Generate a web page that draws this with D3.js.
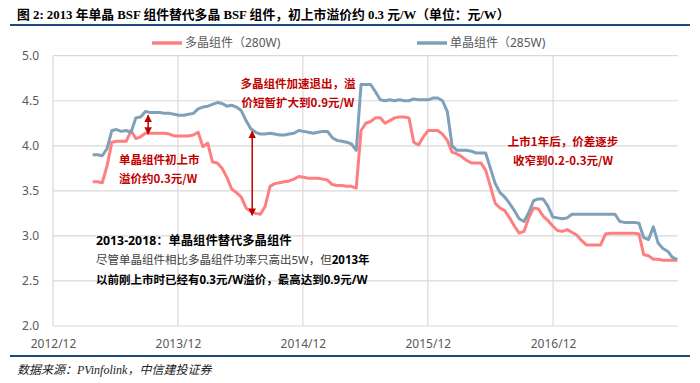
<!DOCTYPE html>
<html>
<head>
<meta charset="utf-8">
<script src="https://cdn.jsdelivr.net/npm/d3@7"></script>
<style>
  body { margin: 0; background: #fff; }
  svg { display: block; }
  text { font-family: "Noto Sans", "Noto Sans CJK SC", sans-serif; }
</style>
</head>
<body>
<div id="chart"></div>
<script>
// biweekly price points (元/W)
const dates = [
  "2013-03-27","2013-04-10","2013-04-24","2013-05-08","2013-05-22","2013-06-05","2013-06-19","2013-07-03","2013-07-17","2013-07-31",
  "2013-08-14","2013-08-28","2013-09-11","2013-09-25","2013-10-09","2013-10-23","2013-11-06","2013-11-20","2013-12-04","2013-12-18",
  "2014-01-01","2014-01-15","2014-01-29","2014-02-12","2014-02-26","2014-03-12","2014-03-26","2014-04-09","2014-04-23","2014-05-07",
  "2014-05-21","2014-06-04","2014-06-18","2014-07-02","2014-07-16","2014-07-30","2014-08-13","2014-08-27","2014-09-10","2014-09-24",
  "2014-10-08","2014-10-22","2014-11-05","2014-11-19","2014-12-03","2014-12-17","2014-12-31","2015-01-14","2015-01-28","2015-02-11",
  "2015-02-25","2015-03-11","2015-03-25","2015-04-08","2015-04-22","2015-05-06","2015-05-20","2015-06-03","2015-06-17","2015-07-01",
  "2015-07-15","2015-07-29","2015-08-12","2015-08-26","2015-09-09","2015-09-23","2015-10-07","2015-10-21","2015-11-04","2015-11-18",
  "2015-12-02","2015-12-16","2015-12-30","2016-01-13","2016-01-27","2016-02-10","2016-02-24","2016-03-09","2016-03-23","2016-04-06",
  "2016-04-20","2016-05-04","2016-05-18","2016-06-01","2016-06-15","2016-06-29","2016-07-13","2016-07-27","2016-08-10","2016-08-24",
  "2016-09-07","2016-09-21","2016-10-05","2016-10-19","2016-11-02","2016-11-16","2016-11-30","2016-12-14","2016-12-28","2017-01-11",
  "2017-01-25","2017-02-08","2017-02-22","2017-03-08","2017-03-22","2017-04-05","2017-04-19","2017-05-03","2017-05-17","2017-05-31",
  "2017-06-14","2017-06-28","2017-07-12","2017-07-26","2017-08-09","2017-08-23","2017-09-06","2017-09-20","2017-10-04","2017-10-18",
  "2017-11-01","2017-11-15","2017-11-29"
];

// 多晶组件 (280W)
const polyPrice = [
  3.60,3.60,3.59,3.78,4.04,4.05,4.05,4.05,4.17,4.08,
  4.10,4.14,4.14,4.14,4.14,4.14,4.13,4.11,4.11,4.11,
  4.11,4.12,4.15,3.99,4.03,3.82,3.81,3.75,3.65,3.52,
  3.48,3.43,3.31,3.27,3.25,3.24,3.33,3.55,3.58,3.59,
  3.60,3.61,3.63,3.66,3.65,3.64,3.64,3.64,3.63,3.62,
  3.57,3.56,3.56,3.55,3.55,3.53,4.17,4.25,4.27,4.31,
  4.31,4.25,4.28,4.31,4.32,4.32,4.31,4.04,4.01,4.10,
  4.17,4.17,4.17,4.13,4.06,3.93,3.91,3.88,3.84,3.81,
  3.81,3.81,3.73,3.55,3.36,3.31,3.28,3.20,3.11,3.03,
  3.05,3.20,3.31,3.30,3.22,3.17,3.11,3.06,3.05,3.07,
  3.04,3.01,2.95,2.90,2.90,2.90,2.90,3.02,3.03,3.03,
  3.03,3.03,3.03,3.03,3.02,2.79,2.78,2.74,2.74,2.73,
  2.73,2.73,2.73
];

// 单晶组件 (285W)
const monoPrice = [
  3.90,3.90,3.89,3.97,4.17,4.18,4.16,4.17,4.15,4.31,
  4.32,4.38,4.37,4.37,4.37,4.36,4.36,4.35,4.34,4.34,
  4.35,4.36,4.41,4.43,4.44,4.46,4.48,4.47,4.44,4.45,
  4.43,4.39,4.28,4.19,4.15,4.13,4.13,4.14,4.13,4.12,
  4.12,4.13,4.14,4.17,4.16,4.15,4.14,4.15,4.16,4.16,
  4.09,4.06,4.05,4.04,4.02,3.95,4.68,4.68,4.68,4.60,
  4.51,4.50,4.51,4.50,4.51,4.50,4.50,4.52,4.51,4.51,
  4.51,4.53,4.53,4.50,4.38,4.00,3.95,3.95,3.95,3.94,
  3.92,3.92,3.92,3.75,3.58,3.48,3.43,3.36,3.28,3.19,
  3.16,3.26,3.39,3.41,3.41,3.33,3.21,3.20,3.19,3.20,
  3.24,3.24,3.24,3.24,3.24,3.24,3.24,3.24,3.24,3.24,
  3.16,3.15,3.15,3.15,3.14,2.98,2.96,3.10,2.92,2.86,
  2.83,2.76,2.74
];

const yTicks = [2.0, 2.5, 3.0, 3.5, 4.0, 4.5, 5.0];
const xTickDates = ["2012-12-01","2013-12-01","2014-12-01","2015-12-01","2016-12-01"];
const xTickLabels = ["2012/12","2013/12","2014/12","2015/12","2016/12"];
const seriesNames = ["多晶组件（280W)", "单晶组件（285W)"];

const W = 700, H = 383;
const plotLeft = 53, plotRight = 678, plotTop = 55.7, plotBottom = 326;
const polyColor = "#ff7f80", monoColor = "#7fa0b9", red = "#c00000";

const parse = d3.timeParse("%Y-%m-%d");
const xDates = dates.map(parse);

const x = d3.scaleTime()
  .domain([parse("2012-12-01"), parse("2017-12-01")])
  .range([plotLeft, plotRight]);
const y = d3.scaleLinear()
  .domain([2, 5])
  .range([plotBottom, plotTop]);

const svg = d3.select("#chart").append("svg")
  .attr("width", W)
  .attr("height", H);

// title + rules
svg.append("text")
  .attr("x", 17)
  .attr("y", 19)
  .style("font-family", "'Liberation Serif', 'Noto Sans CJK SC', serif")
  .style("font-weight", "bold")
  .style("font-size", "12.8px")
  .attr("fill", "#000")
  .text("图 2: 2013 年单晶 BSF 组件替代多晶 BSF 组件，初上市溢价约 0.3 元/W（单位：元/W）");
svg.append("line")
  .attr("x1", 10).attr("x2", 690)
  .attr("y1", 25).attr("y2", 25)
  .attr("stroke", "#1f497d").attr("stroke-width", 2);
svg.append("line")
  .attr("x1", 10).attr("x2", 690)
  .attr("y1", 356).attr("y2", 356)
  .attr("stroke", "#1f497d").attr("stroke-width", 2);
svg.append("text")
  .attr("x", 17)
  .attr("y", 374)
  .style("font-family", "'Liberation Serif', 'Noto Sans CJK SC', serif")
  .style("font-style", "italic")
  .style("font-size", "12px")
  .attr("fill", "#222")
  .text("数据来源：PVinfolink，中信建投证券");

// grid
svg.append("g").selectAll("line.hgrid").data(yTicks).enter().append("line")
  .attr("x1", plotLeft).attr("x2", plotRight)
  .attr("y1", d => y(d)).attr("y2", d => y(d))
  .attr("stroke", "#d9d9d9").attr("stroke-width", 1.2);
svg.append("g").selectAll("line.vgrid").data(xTickDates).enter().append("line")
  .attr("x1", d => x(parse(d))).attr("x2", d => x(parse(d)))
  .attr("y1", plotTop).attr("y2", plotBottom)
  .attr("stroke", "#d9d9d9").attr("stroke-width", 1.2);

// axes (labels only)
let yAxis = d3.axisLeft(y)
  .tickValues(yTicks)
  .tickFormat(d3.format(".1f"))
  .tickSize(0)
  .tickPadding(14);
let gY = svg.append("g")
  .attr("transform", `translate(${plotLeft}, 0)`)
  .call(yAxis);
gY.select(".domain").remove();
gY.selectAll("text")
  .style("font-size", "12px")
  .style("font-family", "'Noto Sans', sans-serif")
  .attr("fill", "#595959");

let xAxis = d3.axisBottom(x)
  .tickValues(xTickDates.map(parse))
  .tickFormat((d, i) => xTickLabels[i])
  .tickSize(0)
  .tickPadding(13);
let gX = svg.append("g")
  .attr("transform", `translate(0, ${plotBottom})`)
  .call(xAxis);
gX.select(".domain").remove();
gX.selectAll("text")
  .style("font-size", "12px")
  .style("font-family", "'Noto Sans', sans-serif")
  .attr("fill", "#595959");

// lines
let line = d3.line()
  .x((d, i) => x(xDates[i]))
  .y(d => y(d));
svg.append("path")
  .datum(polyPrice)
  .attr("d", line)
  .attr("fill", "none")
  .attr("stroke", polyColor)
  .attr("stroke-width", 3)
  .attr("stroke-linejoin", "round");
svg.append("path")
  .datum(monoPrice)
  .attr("d", line)
  .attr("fill", "none")
  .attr("stroke", monoColor)
  .attr("stroke-width", 3)
  .attr("stroke-linejoin", "round");

// legend
let legend = [
  { name: seriesNames[0], color: polyColor, x: 152 },
  { name: seriesNames[1], color: monoColor, x: 417 }
];
let lg = svg.append("g").selectAll("g").data(legend).enter().append("g")
  .attr("transform", d => `translate(${d.x}, 43)`);
lg.append("line")
  .attr("x1", 0).attr("x2", 30)
  .attr("stroke", d => d.color)
  .attr("stroke-width", 3.5);
lg.append("text")
  .attr("x", 33)
  .attr("dy", "0.35em")
  .style("font-size", "12px")
  .attr("fill", "#595959")
  .text(d => d.name);

// arrows
let defs = svg.append("defs");
defs.append("marker")
  .attr("id", "arr")
  .attr("viewBox", "0 0 10 10")
  .attr("refX", 9).attr("refY", 5)
  .attr("markerWidth", 5).attr("markerHeight", 5)
  .attr("orient", "auto-start-reverse")
  .append("path")
  .attr("d", "M0,0 L10,5 L0,10 Z")
  .attr("fill", red);

let arrows = [
  { date: "2013-09-05", from: 4.34, to: 4.13 },
  { date: "2014-07-06", from: 4.16, to: 3.23 }
];
svg.append("g").selectAll("line").data(arrows).enter().append("line")
  .attr("x1", d => x(parse(d.date))).attr("x2", d => x(parse(d.date)))
  .attr("y1", d => y(d.from)).attr("y2", d => y(d.to))
  .attr("stroke", red)
  .attr("stroke-width", 1.5)
  .attr("marker-start", "url(#arr)")
  .attr("marker-end", "url(#arr)");

// red notes
function note(lines, px, py, anchor) {
  let t = svg.append("text")
    .attr("text-anchor", anchor)
    .style("font-size", "11.5px")
    .style("font-weight", "bold")
    .style("font-family", "'Noto Sans CJK SC', sans-serif")
    .attr("fill", red);
  lines.forEach((s, i) => {
    t.append("tspan")
      .attr("x", px)
      .attr("y", py + i * 19)
      .text(s);
  });
}
note(["单晶组件初上市", "溢价约0.3元/W"], 119, 164, "start");
note(["多晶组件加速退出，溢", "价短暂扩大到0.9元/W"], 298, 88, "middle");
note(["上市1年后，价差逐步", "收窄到0.2-0.3元/W"], 563, 146, "middle");

// black note
let bn = svg.append("g")
  .style("font-family", "'Noto Sans CJK SC', sans-serif")
  .style("font-size", "11.5px");
bn.append("text")
  .attr("x", 96).attr("y", 245)
  .style("font-weight", "bold")
  .style("font-size", "12.3px")
  .attr("fill", "#000")
  .text("2013-2018：单晶组件替代多晶组件");
let l2 = bn.append("text")
  .attr("x", 96).attr("y", 264)
  .attr("fill", "#404040");
l2.append("tspan").text("尽管单晶组件相比多晶组件功率只高出5W，但");
l2.append("tspan").style("font-weight", "bold").attr("fill", "#000").text("2013年");
bn.append("text")
  .attr("x", 96).attr("y", 284)
  .style("font-weight", "bold")
  .attr("fill", "#000")
  .text("以前刚上市时已经有0.3元/W溢价，最高达到0.9元/W");
</script>
</body>
</html>
